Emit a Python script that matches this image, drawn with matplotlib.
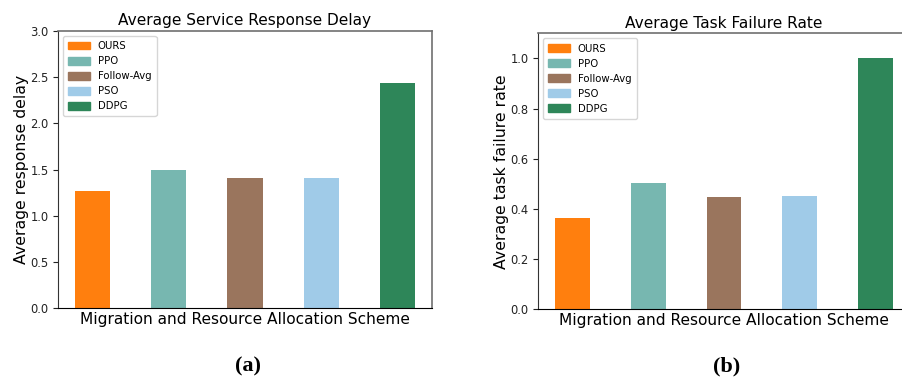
import numpy as np
import matplotlib
matplotlib.use("Agg")
import matplotlib.pyplot as plt
from matplotlib.patches import Patch

# Data
schemes = ["OURS", "PPO", "Follow-Avg", "PSO", "DDPG"]
colors = ["#ff7f0e", "#77b7b0", "#9a755d", "#a0cbe8", "#2e8659"]
delay = [1.267, 1.495, 1.405, 1.405, 2.437]
failure = [0.363, 0.503, 0.447, 0.451, 1.0]

fig = plt.figure(figsize=(9.02, 3.78), dpi=100)
ax1 = fig.add_axes([0.0646, 0.185, 0.414, 0.733])
ax2 = fig.add_axes([0.5968, 0.1817, 0.4118, 0.730])

x = np.arange(len(schemes))


def draw(ax, vals, title, ylabel, ylim, yticks):
    ax.bar(x, vals, width=0.46, color=colors)
    ax.set_xlim(-0.45, len(schemes) - 1 + 0.45)
    ax.set_ylim(*ylim)
    ax.set_yticks(yticks)
    ax.set_xticks([])
    ax.tick_params(axis="y", labelsize=8.3, length=3.5, colors="#222222")
    ax.set_title(title, fontsize=11.1, pad=4)
    ax.set_ylabel(ylabel, fontsize=11.3)
    ax.yaxis.set_label_coords(-0.078, 0.5)
    ax.set_xlabel("Migration and Resource Allocation Scheme", fontsize=11.1, labelpad=3)
    for s in ["top", "right"]:
        ax.spines[s].set_color("#707070")
        ax.spines[s].set_linewidth(1.2)
    ax.spines["left"].set_color("#333333")
    ax.spines["bottom"].set_color("black")
    handles = [Patch(color=c, label=n) for c, n in zip(colors, schemes)]
    ax.legend(handles=handles, loc="upper left", fontsize=7.3, handlelength=2.1,
              handleheight=0.8, labelspacing=0.5, borderpad=0.5)


draw(ax1, delay, "Average Service Response Delay", "Average response delay",
     (0, 3.0), [0.0, 0.5, 1.0, 1.5, 2.0, 2.5, 3.0])
draw(ax2, failure, "Average Task Failure Rate", "Average task failure rate",
     (0, 1.1), [0.0, 0.2, 0.4, 0.6, 0.8, 1.0])

fig.text(248 / 902, 1 - 366 / 378, "(a)", ha="center", va="center",
         fontsize=16, fontweight="bold", family="Liberation Serif")
fig.text(727 / 902, 1 - 366 / 378, "(b)", ha="center", va="center",
         fontsize=16, fontweight="bold", family="Liberation Serif")

fig.savefig("out.png", dpi=100)
